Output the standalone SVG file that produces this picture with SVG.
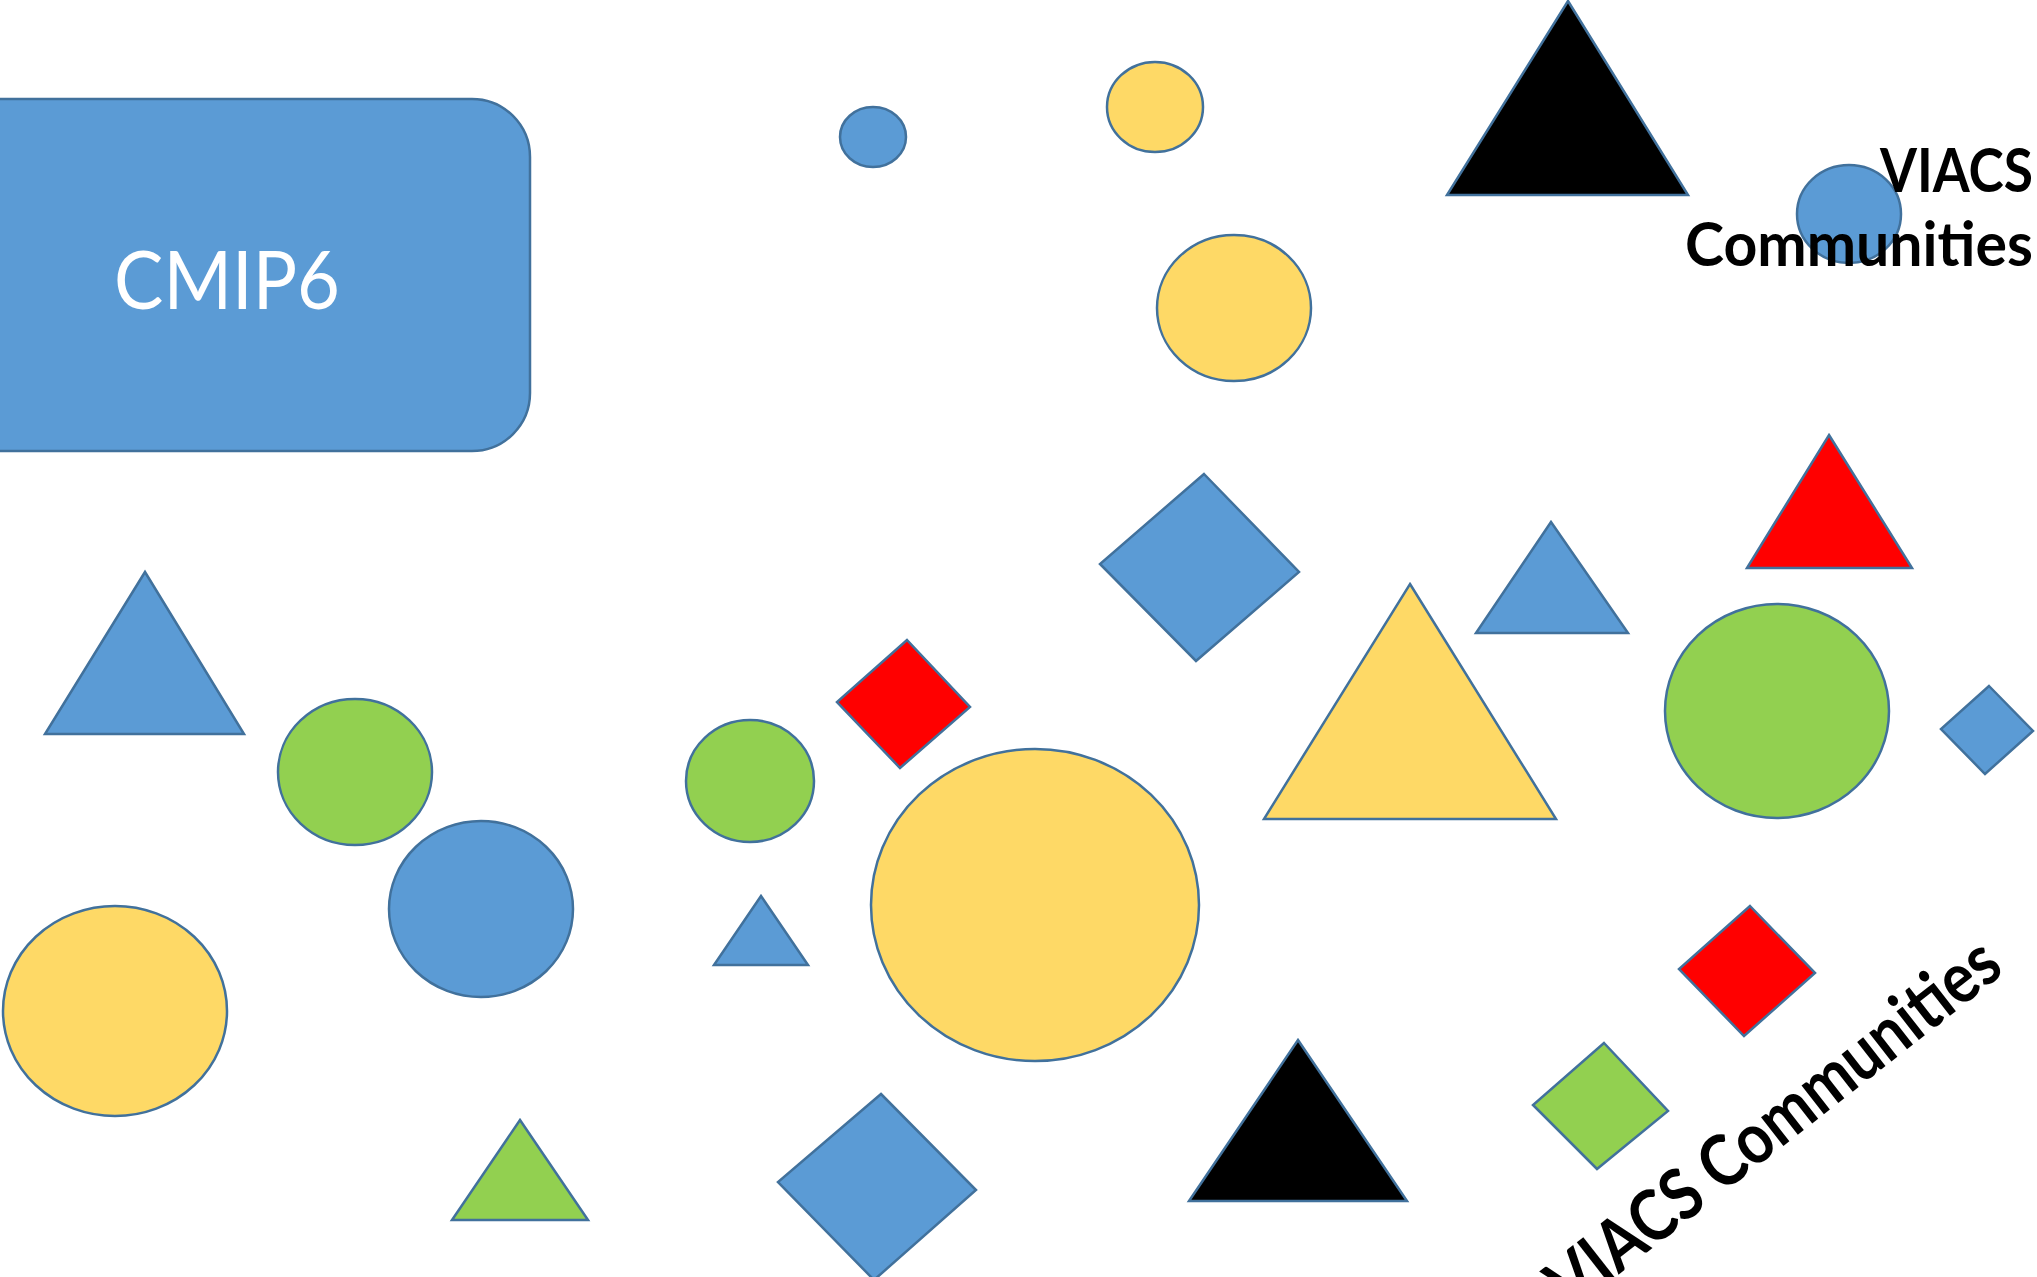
<svg xmlns="http://www.w3.org/2000/svg" width="2037" height="1277" viewBox="0 0 2037 1277">
<style>
.s{stroke:#41719C;stroke-width:2.5;stroke-linejoin:miter}
.b{fill:#5B9BD5}.y{fill:#FED966}.g{fill:#92D050}.r{fill:#FF0000}.k{fill:#000000}
.lbl{font-family:Lato,"Open Sans",sans-serif;font-weight:bold;fill:#000}
</style>
<rect width="2037" height="1277" fill="#fff"/>
<g id="cmip6">
<rect class="s b" x="-90" y="99" width="620" height="352" rx="58"/>
<text x="227" y="309" font-family="Lato,'Open Sans',sans-serif" font-size="82" fill="#fff" text-anchor="middle" textLength="226" lengthAdjust="spacingAndGlyphs">CMIP6</text>
</g>
<g id="shapes">
<ellipse id="c1" class="s b" cx="873" cy="137" rx="33" ry="30"/>
<ellipse id="c2" class="s y" cx="1155" cy="107" rx="48" ry="45"/>
<ellipse id="c3" class="s y" cx="1234" cy="308" rx="77" ry="73"/>
<polygon id="t1" class="s k" points="1568,1 1688,195 1447,195"/>
<ellipse id="c4" class="s b" cx="1849" cy="214" rx="52" ry="49"/>
<polygon id="d1" class="s b" points="1204,474 1299,572 1196,661 1100,564"/>
<polygon id="t2" class="s r" points="1829,435 1912,568 1747,568"/>
<polygon id="t3" class="s b" points="1551,522 1628,633 1476,633"/>
<polygon id="t4" class="s y" points="1410,584 1556,819 1264,819"/>
<ellipse id="c5" class="s g" cx="1777" cy="711" rx="112" ry="107"/>
<polygon id="d2" class="s b" points="1989,686 2033,731 1985,774 1941,729"/>
<polygon id="t5" class="s b" points="145,572 244,734 45,734"/>
<ellipse id="c6" class="s g" cx="355" cy="772" rx="77" ry="73"/>
<ellipse id="c7" class="s b" cx="481" cy="909" rx="92" ry="88"/>
<ellipse id="c8" class="s y" cx="115" cy="1011" rx="112" ry="105"/>
<polygon id="t6" class="s g" points="520,1120 588,1220 452,1220"/>
<ellipse id="c9" class="s g" cx="750" cy="781" rx="64" ry="61"/>
<polygon id="d3" class="s r" points="907,640 970,707 900,768 837,702"/>
<polygon id="t7" class="s b" points="761,896 808,965 714,965"/>
<ellipse id="c10" class="s y" cx="1035" cy="905" rx="164" ry="156"/>
<polygon id="d4" class="s b" points="881,1094 976,1190 874,1280 778,1182"/>
<polygon id="t8" class="s k" points="1298,1040 1407,1201 1189,1201"/>
<polygon id="d5" class="s r" points="1750,906 1815,973 1744,1036 1679,969"/>
<polygon id="d6" class="s g" points="1604,1043 1668,1111 1597,1169 1533,1105"/>
</g>
<g id="labels">
<text class="lbl" x="2033" y="192" font-size="62" text-anchor="end" textLength="153" lengthAdjust="spacingAndGlyphs">VIACS</text>
<text class="lbl" x="2033" y="266" font-size="62" text-anchor="end" textLength="348" lengthAdjust="spacingAndGlyphs">Communities</text>
<text class="lbl" font-size="71" text-anchor="end" transform="translate(2006,972) rotate(-38)" textLength="552" lengthAdjust="spacingAndGlyphs">VIACS Communities</text>
</g>
</svg>
